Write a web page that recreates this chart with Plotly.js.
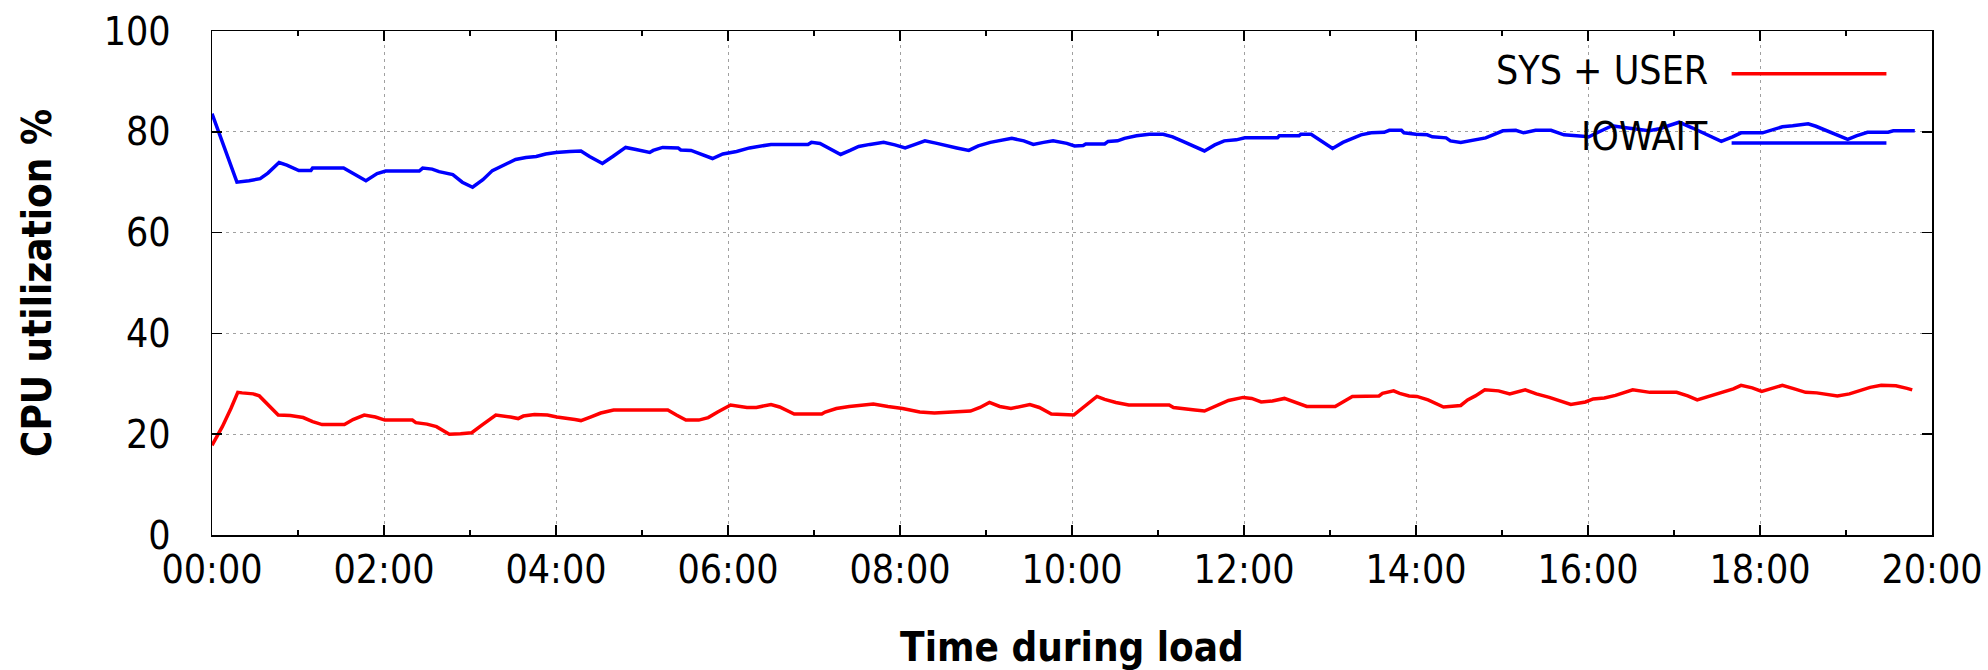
<!DOCTYPE html>
<html>
<head>
<meta charset="utf-8">
<script src="https://cdn.plot.ly/plotly-3.0.1.min.js"></script>
<style>html,body{margin:0;padding:0;background:#fff;}#chart{width:1988px;height:670px;}</style>
</head>
<body>
<div id="chart"></div>
<script>
// Time during load (minutes) and CPU utilization (%) for each series
const sysUserTime = [0.00,0.12,0.22,0.30,0.35,0.48,0.55,0.65,0.77,0.91,1.06,1.17,1.28,1.54,1.64,1.77,1.90,2.01,2.33,2.37,2.50,2.61,2.76,2.89,3.02,3.13,3.30,3.47,3.56,3.62,3.75,3.90,4.01,4.22,4.29,4.40,4.52,4.67,5.30,5.40,5.51,5.66,5.77,5.88,6.03,6.22,6.33,6.50,6.60,6.77,7.09,7.13,7.26,7.41,7.69,7.86,8.03,8.23,8.40,8.82,8.93,9.04,9.16,9.29,9.38,9.51,9.62,9.76,10.02,10.17,10.29,10.38,10.51,10.66,11.13,11.18,11.33,11.43,11.54,11.69,11.82,11.99,12.09,12.20,12.33,12.47,12.58,12.73,13.06,13.16,13.26,13.57,13.61,13.74,13.81,13.92,14.01,14.14,14.25,14.32,14.52,14.60,14.69,14.80,14.96,15.09,15.27,15.40,15.55,15.69,15.80,15.97,16.06,16.19,16.32,16.52,16.72,17.03,17.16,17.27,17.43,17.56,17.69,17.78,17.91,18.02,18.13,18.26,18.40,18.53,18.66,18.90,19.04,19.15,19.28,19.41,19.58,19.71,19.77];
const sysUserPct = [17.8,21.5,25.1,28.3,28.2,28.0,27.6,25.8,23.8,23.7,23.3,22.5,21.9,21.9,22.9,23.8,23.4,22.8,22.8,22.3,22.0,21.5,20.0,20.1,20.3,21.7,23.8,23.4,23.1,23.6,23.9,23.8,23.4,22.9,22.7,23.4,24.2,24.8,24.8,23.8,22.8,22.8,23.3,24.4,25.8,25.3,25.3,25.9,25.4,24.0,24.0,24.4,25.1,25.5,26.0,25.5,25.1,24.4,24.2,24.6,25.3,26.3,25.5,25.1,25.4,25.9,25.3,24.0,23.8,25.8,27.5,26.9,26.3,25.8,25.8,25.3,25.1,24.8,24.6,25.8,26.7,27.3,27.1,26.4,26.6,27.1,26.4,25.5,25.5,26.6,27.5,27.6,28.1,28.6,28.1,27.6,27.5,26.8,25.9,25.4,25.7,26.8,27.6,28.8,28.6,28.0,28.8,28.0,27.3,26.6,25.9,26.4,27.0,27.2,27.7,28.8,28.3,28.3,27.6,26.8,27.6,28.2,29.0,29.7,29.2,28.5,29.1,29.7,29.0,28.3,28.2,27.6,28.0,28.6,29.3,29.7,29.6,29.1,28.8];

const iowaitTime = [0.00,0.29,0.43,0.56,0.65,0.78,0.87,1.01,1.15,1.17,1.53,1.63,1.79,1.92,2.02,2.41,2.45,2.56,2.64,2.80,2.91,3.03,3.15,3.26,3.42,3.53,3.65,3.77,3.88,4.00,4.16,4.29,4.39,4.54,4.66,4.81,4.93,5.09,5.13,5.24,5.42,5.45,5.57,5.71,5.82,5.94,6.10,6.25,6.39,6.50,6.93,6.97,7.07,7.19,7.31,7.42,7.52,7.65,7.81,7.94,8.06,8.16,8.29,8.43,8.56,8.66,8.80,8.91,9.05,9.18,9.30,9.44,9.55,9.67,9.78,9.94,10.03,10.13,10.16,10.38,10.42,10.53,10.61,10.75,10.90,11.06,11.17,11.29,11.41,11.54,11.66,11.77,11.91,12.01,12.39,12.41,12.64,12.66,12.78,12.88,13.03,13.15,13.26,13.36,13.48,13.63,13.69,13.83,13.86,14.00,14.13,14.19,14.35,14.40,14.52,14.62,14.71,14.81,14.91,15.01,15.16,15.25,15.39,15.57,15.72,15.86,16.01,16.13,16.28,16.44,16.59,16.71,16.83,16.94,17.06,17.21,17.37,17.55,17.68,17.78,18.03,18.11,18.26,18.38,18.56,18.65,18.77,18.90,19.02,19.12,19.25,19.49,19.55,19.80];
const iowaitPct = [83.6,70.0,70.3,70.7,71.8,73.9,73.4,72.3,72.3,72.8,72.8,71.8,70.3,71.7,72.2,72.2,72.8,72.6,72.1,71.5,70.0,69.0,70.5,72.3,73.6,74.5,74.9,75.1,75.6,75.9,76.1,76.2,75.1,73.7,75.1,76.9,76.5,75.9,76.3,76.9,76.8,76.4,76.3,75.5,74.7,75.6,76.1,76.8,77.2,77.5,77.5,77.9,77.7,76.6,75.5,76.3,77.1,77.5,77.9,77.4,76.8,77.4,78.2,77.7,77.1,76.8,76.3,77.2,77.9,78.4,78.7,78.2,77.5,77.9,78.2,77.7,77.2,77.3,77.6,77.6,78.1,78.2,78.7,79.2,79.5,79.5,79.0,78.1,77.2,76.2,77.4,78.2,78.4,78.8,78.8,79.2,79.2,79.5,79.5,78.4,76.7,77.9,78.7,79.4,79.8,79.9,80.3,80.3,79.8,79.5,79.4,79.0,78.8,78.2,77.9,78.2,78.4,78.8,79.5,80.2,80.3,79.8,80.3,80.3,79.4,79.2,79.0,80.0,81.2,80.8,80.5,80.2,80.6,81.2,81.9,80.8,79.5,78.1,79.0,79.8,79.8,80.2,81.0,81.2,81.6,81.1,80.2,79.4,78.5,79.2,79.9,79.9,80.2,80.2];

const seriesNames = ["SYS + USER", "IOWAIT"];
const seriesColors = ["#ff0000", "#0000ff"];
const xTickVals = [0,2,4,6,8,10,12,14,16,18,20];
const xTickLabels = ["00:00","02:00","04:00","06:00","08:00","10:00","12:00","14:00","16:00","18:00","20:00"];
const xMinorVals = [1,3,5,7,9,11,13,15,17,19];
const yTickVals = [0,20,40,60,80,100];

const FONT = "DejaVu Sans Condensed, DejaVu Sans, sans-serif";

const traces = [
  {x: sysUserTime, y: sysUserPct, name: seriesNames[0], type: "scatter", mode: "lines",
   line: {color: seriesColors[0], width: 3.5}},
  {x: iowaitTime, y: iowaitPct, name: seriesNames[1], type: "scatter", mode: "lines",
   line: {color: seriesColors[1], width: 3.5}}
];

const legendLineX0 = 0.8835, legendLineX1 = 0.9735, legendTextX = 0.871;
const legendRows = [0.921, 0.790];
const legendLineRows = [0.915, 0.778];

const layout = {
  width: 1988, height: 670,
  margin: {l: 211.5, r: 55.5, t: 31, b: 135, pad: 0},
  paper_bgcolor: "#ffffff", plot_bgcolor: "#ffffff",
  showlegend: false,
  font: {family: FONT, size: 39, color: "#000"},
  xaxis: {
    range: [0, 20], tickmode: "array", tickvals: xTickVals, ticktext: xTickLabels,
    ticks: "inside", ticklen: 10, tickwidth: 1.5, tickcolor: "#000",
    showline: true, linecolor: "#000", linewidth: 1.5, mirror: "ticks",
    showgrid: true, gridcolor: "#a0a0a0", gridwidth: 1, griddash: "3px,4px",
    zeroline: false, tickfont: {family: FONT, size: 39, color: "#000"},
    ticklabelstandoff: 0,
    minor: {tickmode: "array", tickvals: xMinorVals, ticks: "inside", ticklen: 5, tickwidth: 1.5, tickcolor: "#000", showgrid: false},
    title: {text: "Time during load", font: {family: FONT, size: 40, color: "#000", weight: "bold"}, standoff: 53},
    automargin: false, fixedrange: true
  },
  yaxis: {
    range: [0, 100], tickmode: "array", tickvals: yTickVals,
    ticks: "inside", ticklen: 10, tickwidth: 1.5, tickcolor: "#000",
    showline: true, linecolor: "#000", linewidth: 1.5, mirror: "ticks",
    showgrid: true, gridcolor: "#a0a0a0", gridwidth: 1, griddash: "3px,4px",
    zeroline: false, tickfont: {family: FONT, size: 39, color: "#000"},
    ticklabelstandoff: 32,
    title: {text: "CPU utilization %", font: {family: FONT, size: 40, color: "#000", weight: "bold"}, standoff: 39},
    automargin: false, fixedrange: true
  },
  shapes: [
    {type: "rect", xref: "paper", yref: "paper", x0: 0.737, x1: 1, y0: 0.702, y1: 1,
     fillcolor: "#ffffff", line: {width: 0}, layer: "between"},
    {type: "line", xref: "paper", yref: "paper", x0: legendLineX0, x1: legendLineX1, y0: legendLineRows[0], y1: legendLineRows[0],
     line: {color: seriesColors[0], width: 3.5}},
    {type: "line", xref: "paper", yref: "paper", x0: legendLineX0, x1: legendLineX1, y0: legendLineRows[1], y1: legendLineRows[1],
     line: {color: seriesColors[1], width: 3.5}}
  ],
  annotations: [
    {xref: "paper", yref: "paper", x: legendTextX, y: legendRows[0], xanchor: "right", yanchor: "middle",
     text: seriesNames[0], showarrow: false, font: {family: FONT, size: 39, color: "#000"}},
    {xref: "paper", yref: "paper", x: legendTextX, y: legendRows[1], xanchor: "right", yanchor: "middle",
     text: seriesNames[1], showarrow: false, font: {family: FONT, size: 39, color: "#000"}}
  ]
};

Plotly.newPlot("chart", traces, layout, {staticPlot: true, displayModeBar: false});
</script>
</body>
</html>
